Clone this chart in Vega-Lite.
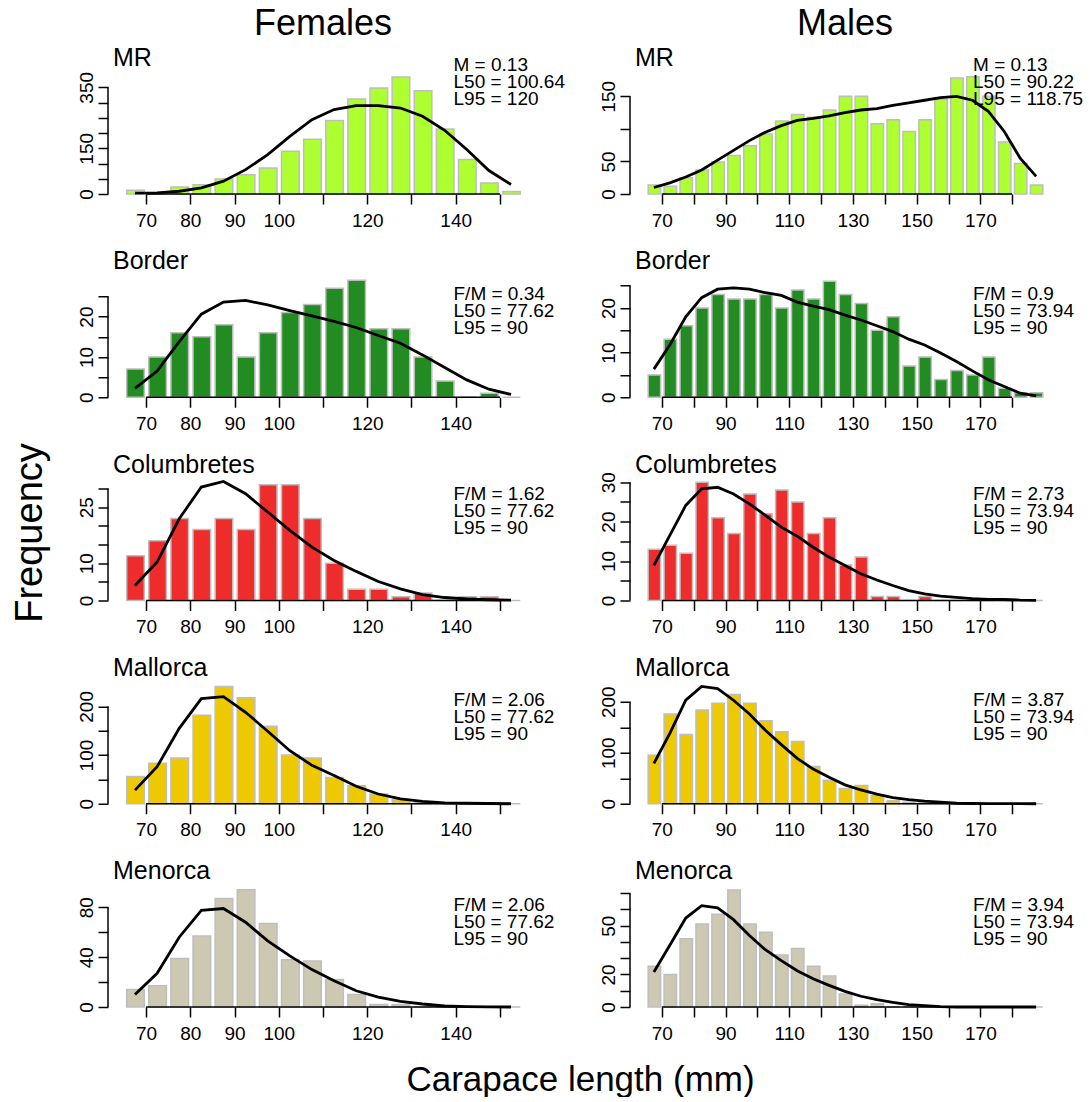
{
"$schema":"https://vega.github.io/schema/vega-lite/v6.json",
"background":"white",
"padding":{"left":10,"top":6,"right":0,"bottom":0},
"columns":2,
"spacing":{"row":75.25,"column":92},
"bounds":"flush",
"config":{
 "view":{"stroke":null},
 "font":"Liberation Sans",
 "text":{"font":"Liberation Sans","color":"black"},
 "title":{"font":"Liberation Sans","fontSize":36,"fontWeight":"normal","color":"black","anchor":"middle","frame":"group","baseline":"alphabetic","offset":3},
 "axis":{"domain":false,"grid":false,"ticks":true,"tickCount":100,"tickSize":10,"tickWidth":1.5,"tickColor":"black","labelFont":"Liberation Sans","labelFontSize":19,"labelColor":"black","labelFlush":false,"labelBound":false,"labelSeparation":-100,"titleFont":"Liberation Sans","titleFontWeight":"normal","titleColor":"black","titleFontSize":35},
 "axisX":{"labelPadding":7,"labelAngle":0},
 "axisY":{"labelAngle":-90,"labelAlign":"center","labelBaseline":"alphabetic","labelPadding":6}
},
"datasets":{
 "notes":[
  {"sex":"F","region":"MR","stats":"M = 0.13\nL50 = 100.64\nL95 = 120"},
  {"sex":"M","region":"MR","stats":"M = 0.13\nL50 = 90.22\nL95 = 118.75"},
  {"sex":"F","region":"Border","stats":"F/M = 0.34\nL50 = 77.62\nL95 = 90"},
  {"sex":"M","region":"Border","stats":"F/M = 0.9\nL50 = 73.94\nL95 = 90"},
  {"sex":"F","region":"Columbretes","stats":"F/M = 1.62\nL50 = 77.62\nL95 = 90"},
  {"sex":"M","region":"Columbretes","stats":"F/M = 2.73\nL50 = 73.94\nL95 = 90"},
  {"sex":"F","region":"Mallorca","stats":"F/M = 2.06\nL50 = 77.62\nL95 = 90"},
  {"sex":"M","region":"Mallorca","stats":"F/M = 3.87\nL50 = 73.94\nL95 = 90"},
  {"sex":"F","region":"Menorca","stats":"F/M = 2.06\nL50 = 77.62\nL95 = 90"},
  {"sex":"M","region":"Menorca","stats":"F/M = 3.94\nL50 = 73.94\nL95 = 90"}
 ],
 "h":[
{"sex":"F","region":"MR","lo":65,"hi":70,"mid":67.5,"n":12,"fit":3},
{"sex":"F","region":"MR","lo":70,"hi":75,"mid":72.5,"n":3,"fit":4},
{"sex":"F","region":"MR","lo":75,"hi":80,"mid":77.5,"n":23,"fit":9},
{"sex":"F","region":"MR","lo":80,"hi":85,"mid":82.5,"n":30,"fit":20},
{"sex":"F","region":"MR","lo":85,"hi":90,"mid":87.5,"n":49,"fit":42},
{"sex":"F","region":"MR","lo":90,"hi":95,"mid":92.5,"n":63,"fit":80},
{"sex":"F","region":"MR","lo":95,"hi":100,"mid":97.5,"n":85,"fit":129},
{"sex":"F","region":"MR","lo":100,"hi":105,"mid":102.5,"n":140,"fit":189},
{"sex":"F","region":"MR","lo":105,"hi":110,"mid":107.5,"n":180,"fit":244},
{"sex":"F","region":"MR","lo":110,"hi":115,"mid":112.5,"n":241,"fit":277},
{"sex":"F","region":"MR","lo":115,"hi":120,"mid":117.5,"n":312,"fit":290},
{"sex":"F","region":"MR","lo":120,"hi":125,"mid":122.5,"n":348,"fit":290},
{"sex":"F","region":"MR","lo":125,"hi":130,"mid":127.5,"n":384,"fit":282},
{"sex":"F","region":"MR","lo":130,"hi":135,"mid":132.5,"n":339,"fit":255},
{"sex":"F","region":"MR","lo":135,"hi":140,"mid":137.5,"n":213,"fit":209},
{"sex":"F","region":"MR","lo":140,"hi":145,"mid":142.5,"n":113,"fit":146},
{"sex":"F","region":"MR","lo":145,"hi":150,"mid":147.5,"n":36,"fit":77},
{"sex":"F","region":"MR","lo":150,"hi":155,"mid":152.5,"n":8,"fit":31},
{"sex":"M","region":"MR","lo":65,"hi":70,"mid":67.5,"n":14,"fit":10},
{"sex":"M","region":"MR","lo":70,"hi":75,"mid":72.5,"n":12,"fit":17},
{"sex":"M","region":"MR","lo":75,"hi":80,"mid":77.5,"n":25,"fit":26},
{"sex":"M","region":"MR","lo":80,"hi":85,"mid":82.5,"n":37,"fit":37},
{"sex":"M","region":"MR","lo":85,"hi":90,"mid":87.5,"n":49,"fit":52},
{"sex":"M","region":"MR","lo":90,"hi":95,"mid":92.5,"n":59,"fit":67},
{"sex":"M","region":"MR","lo":95,"hi":100,"mid":97.5,"n":74,"fit":82},
{"sex":"M","region":"MR","lo":100,"hi":105,"mid":102.5,"n":92,"fit":95},
{"sex":"M","region":"MR","lo":105,"hi":110,"mid":107.5,"n":112,"fit":105},
{"sex":"M","region":"MR","lo":110,"hi":115,"mid":112.5,"n":122,"fit":113},
{"sex":"M","region":"MR","lo":115,"hi":120,"mid":117.5,"n":118,"fit":116},
{"sex":"M","region":"MR","lo":120,"hi":125,"mid":122.5,"n":129,"fit":120},
{"sex":"M","region":"MR","lo":125,"hi":130,"mid":127.5,"n":150,"fit":125},
{"sex":"M","region":"MR","lo":130,"hi":135,"mid":132.5,"n":150,"fit":129},
{"sex":"M","region":"MR","lo":135,"hi":140,"mid":137.5,"n":108,"fit":131},
{"sex":"M","region":"MR","lo":140,"hi":145,"mid":142.5,"n":114,"fit":136},
{"sex":"M","region":"MR","lo":145,"hi":150,"mid":147.5,"n":96,"fit":140},
{"sex":"M","region":"MR","lo":150,"hi":155,"mid":152.5,"n":114,"fit":144},
{"sex":"M","region":"MR","lo":155,"hi":160,"mid":157.5,"n":145,"fit":148},
{"sex":"M","region":"MR","lo":160,"hi":165,"mid":162.5,"n":178,"fit":150},
{"sex":"M","region":"MR","lo":165,"hi":170,"mid":167.5,"n":180,"fit":144},
{"sex":"M","region":"MR","lo":170,"hi":175,"mid":172.5,"n":150,"fit":127},
{"sex":"M","region":"MR","lo":175,"hi":180,"mid":177.5,"n":80,"fit":96},
{"sex":"M","region":"MR","lo":180,"hi":185,"mid":182.5,"n":47,"fit":55},
{"sex":"M","region":"MR","lo":185,"hi":190,"mid":187.5,"n":14,"fit":27},
{"sex":"F","region":"Border","lo":65,"hi":70,"mid":67.5,"n":7,"fit":2.2},
{"sex":"F","region":"Border","lo":70,"hi":75,"mid":72.5,"n":10,"fit":6.5},
{"sex":"F","region":"Border","lo":75,"hi":80,"mid":77.5,"n":16,"fit":13.8},
{"sex":"F","region":"Border","lo":80,"hi":85,"mid":82.5,"n":15,"fit":20.6},
{"sex":"F","region":"Border","lo":85,"hi":90,"mid":87.5,"n":18,"fit":23.6},
{"sex":"F","region":"Border","lo":90,"hi":95,"mid":92.5,"n":10,"fit":24},
{"sex":"F","region":"Border","lo":95,"hi":100,"mid":97.5,"n":16,"fit":22.9},
{"sex":"F","region":"Border","lo":100,"hi":105,"mid":102.5,"n":21,"fit":21.5},
{"sex":"F","region":"Border","lo":105,"hi":110,"mid":107.5,"n":23,"fit":20.2},
{"sex":"F","region":"Border","lo":110,"hi":115,"mid":112.5,"n":27,"fit":18.8},
{"sex":"F","region":"Border","lo":115,"hi":120,"mid":117.5,"n":29,"fit":17.3},
{"sex":"F","region":"Border","lo":120,"hi":125,"mid":122.5,"n":17,"fit":15.3},
{"sex":"F","region":"Border","lo":125,"hi":130,"mid":127.5,"n":17,"fit":13.4},
{"sex":"F","region":"Border","lo":130,"hi":135,"mid":132.5,"n":10,"fit":10.5},
{"sex":"F","region":"Border","lo":135,"hi":140,"mid":137.5,"n":4,"fit":7.4},
{"sex":"F","region":"Border","lo":140,"hi":145,"mid":142.5,"n":0,"fit":4.3},
{"sex":"F","region":"Border","lo":145,"hi":150,"mid":147.5,"n":1,"fit":2},
{"sex":"F","region":"Border","lo":150,"hi":155,"mid":152.5,"n":0,"fit":0.7},
{"sex":"M","region":"Border","lo":65,"hi":70,"mid":67.5,"n":5,"fit":6.3},
{"sex":"M","region":"Border","lo":70,"hi":75,"mid":72.5,"n":13,"fit":11.7},
{"sex":"M","region":"Border","lo":75,"hi":80,"mid":77.5,"n":16,"fit":18},
{"sex":"M","region":"Border","lo":80,"hi":85,"mid":82.5,"n":20,"fit":22.3},
{"sex":"M","region":"Border","lo":85,"hi":90,"mid":87.5,"n":23,"fit":24.2},
{"sex":"M","region":"Border","lo":90,"hi":95,"mid":92.5,"n":22,"fit":24.5},
{"sex":"M","region":"Border","lo":95,"hi":100,"mid":97.5,"n":22,"fit":24.2},
{"sex":"M","region":"Border","lo":100,"hi":105,"mid":102.5,"n":23,"fit":23.4},
{"sex":"M","region":"Border","lo":105,"hi":110,"mid":107.5,"n":20,"fit":22.8},
{"sex":"M","region":"Border","lo":110,"hi":115,"mid":112.5,"n":24,"fit":21.3},
{"sex":"M","region":"Border","lo":115,"hi":120,"mid":117.5,"n":22,"fit":20.4},
{"sex":"M","region":"Border","lo":120,"hi":125,"mid":122.5,"n":26,"fit":19.6},
{"sex":"M","region":"Border","lo":125,"hi":130,"mid":127.5,"n":23,"fit":18.4},
{"sex":"M","region":"Border","lo":130,"hi":135,"mid":132.5,"n":21,"fit":17.3},
{"sex":"M","region":"Border","lo":135,"hi":140,"mid":137.5,"n":15,"fit":16},
{"sex":"M","region":"Border","lo":140,"hi":145,"mid":142.5,"n":18,"fit":14.7},
{"sex":"M","region":"Border","lo":145,"hi":150,"mid":147.5,"n":7,"fit":13},
{"sex":"M","region":"Border","lo":150,"hi":155,"mid":152.5,"n":9,"fit":11.7},
{"sex":"M","region":"Border","lo":155,"hi":160,"mid":157.5,"n":4,"fit":9.9},
{"sex":"M","region":"Border","lo":160,"hi":165,"mid":162.5,"n":6,"fit":8},
{"sex":"M","region":"Border","lo":165,"hi":170,"mid":167.5,"n":5,"fit":5.9},
{"sex":"M","region":"Border","lo":170,"hi":175,"mid":172.5,"n":9,"fit":3.9},
{"sex":"M","region":"Border","lo":175,"hi":180,"mid":177.5,"n":2,"fit":2.4},
{"sex":"M","region":"Border","lo":180,"hi":185,"mid":182.5,"n":1,"fit":0.9},
{"sex":"M","region":"Border","lo":185,"hi":190,"mid":187.5,"n":1,"fit":0.3},
{"sex":"F","region":"Columbretes","lo":65,"hi":70,"mid":67.5,"n":12,"fit":4},
{"sex":"F","region":"Columbretes","lo":70,"hi":75,"mid":72.5,"n":16,"fit":10.3},
{"sex":"F","region":"Columbretes","lo":75,"hi":80,"mid":77.5,"n":22,"fit":21.9},
{"sex":"F","region":"Columbretes","lo":80,"hi":85,"mid":82.5,"n":19,"fit":30.4},
{"sex":"F","region":"Columbretes","lo":85,"hi":90,"mid":87.5,"n":22,"fit":31.9},
{"sex":"F","region":"Columbretes","lo":90,"hi":95,"mid":92.5,"n":19,"fit":28.6},
{"sex":"F","region":"Columbretes","lo":95,"hi":100,"mid":97.5,"n":31,"fit":23.7},
{"sex":"F","region":"Columbretes","lo":100,"hi":105,"mid":102.5,"n":31,"fit":18.8},
{"sex":"F","region":"Columbretes","lo":105,"hi":110,"mid":107.5,"n":22,"fit":14.3},
{"sex":"F","region":"Columbretes","lo":110,"hi":115,"mid":112.5,"n":10,"fit":10.7},
{"sex":"F","region":"Columbretes","lo":115,"hi":120,"mid":117.5,"n":3,"fit":7.8},
{"sex":"F","region":"Columbretes","lo":120,"hi":125,"mid":122.5,"n":3,"fit":5.1},
{"sex":"F","region":"Columbretes","lo":125,"hi":130,"mid":127.5,"n":1,"fit":3.1},
{"sex":"F","region":"Columbretes","lo":130,"hi":135,"mid":132.5,"n":2,"fit":1.6},
{"sex":"F","region":"Columbretes","lo":135,"hi":140,"mid":137.5,"n":0,"fit":0.8},
{"sex":"F","region":"Columbretes","lo":140,"hi":145,"mid":142.5,"n":1,"fit":0.4},
{"sex":"F","region":"Columbretes","lo":145,"hi":150,"mid":147.5,"n":1,"fit":0.2},
{"sex":"F","region":"Columbretes","lo":150,"hi":155,"mid":152.5,"n":0,"fit":0.1},
{"sex":"M","region":"Columbretes","lo":65,"hi":70,"mid":67.5,"n":13,"fit":8.9},
{"sex":"M","region":"Columbretes","lo":70,"hi":75,"mid":72.5,"n":14,"fit":16.5},
{"sex":"M","region":"Columbretes","lo":75,"hi":80,"mid":77.5,"n":12,"fit":24.1},
{"sex":"M","region":"Columbretes","lo":80,"hi":85,"mid":82.5,"n":30,"fit":28.3},
{"sex":"M","region":"Columbretes","lo":85,"hi":90,"mid":87.5,"n":21,"fit":28.7},
{"sex":"M","region":"Columbretes","lo":90,"hi":95,"mid":92.5,"n":17,"fit":27},
{"sex":"M","region":"Columbretes","lo":95,"hi":100,"mid":97.5,"n":27,"fit":24.5},
{"sex":"M","region":"Columbretes","lo":100,"hi":105,"mid":102.5,"n":22,"fit":21.6},
{"sex":"M","region":"Columbretes","lo":105,"hi":110,"mid":107.5,"n":28,"fit":18.6},
{"sex":"M","region":"Columbretes","lo":110,"hi":115,"mid":112.5,"n":25,"fit":16.3},
{"sex":"M","region":"Columbretes","lo":115,"hi":120,"mid":117.5,"n":17,"fit":13.5},
{"sex":"M","region":"Columbretes","lo":120,"hi":125,"mid":122.5,"n":21,"fit":11},
{"sex":"M","region":"Columbretes","lo":125,"hi":130,"mid":127.5,"n":9,"fit":8.9},
{"sex":"M","region":"Columbretes","lo":130,"hi":135,"mid":132.5,"n":11,"fit":6.8},
{"sex":"M","region":"Columbretes","lo":135,"hi":140,"mid":137.5,"n":1,"fit":5.2},
{"sex":"M","region":"Columbretes","lo":140,"hi":145,"mid":142.5,"n":1,"fit":3.8},
{"sex":"M","region":"Columbretes","lo":145,"hi":150,"mid":147.5,"n":0,"fit":2.5},
{"sex":"M","region":"Columbretes","lo":150,"hi":155,"mid":152.5,"n":1,"fit":1.7},
{"sex":"M","region":"Columbretes","lo":155,"hi":160,"mid":157.5,"n":0,"fit":1.1},
{"sex":"M","region":"Columbretes","lo":160,"hi":165,"mid":162.5,"n":0,"fit":0.8},
{"sex":"M","region":"Columbretes","lo":165,"hi":170,"mid":167.5,"n":0,"fit":0.5},
{"sex":"M","region":"Columbretes","lo":170,"hi":175,"mid":172.5,"n":0,"fit":0.3},
{"sex":"M","region":"Columbretes","lo":175,"hi":180,"mid":177.5,"n":0,"fit":0.25},
{"sex":"M","region":"Columbretes","lo":180,"hi":185,"mid":182.5,"n":0,"fit":0.1},
{"sex":"M","region":"Columbretes","lo":185,"hi":190,"mid":187.5,"n":0,"fit":0.05},
{"sex":"F","region":"Mallorca","lo":65,"hi":70,"mid":67.5,"n":56,"fit":28},
{"sex":"F","region":"Mallorca","lo":70,"hi":75,"mid":72.5,"n":83,"fit":76},
{"sex":"F","region":"Mallorca","lo":75,"hi":80,"mid":77.5,"n":94,"fit":155},
{"sex":"F","region":"Mallorca","lo":80,"hi":85,"mid":82.5,"n":182,"fit":216},
{"sex":"F","region":"Mallorca","lo":85,"hi":90,"mid":87.5,"n":241,"fit":220},
{"sex":"F","region":"Mallorca","lo":90,"hi":95,"mid":92.5,"n":218,"fit":188},
{"sex":"F","region":"Mallorca","lo":95,"hi":100,"mid":97.5,"n":159,"fit":149},
{"sex":"F","region":"Mallorca","lo":100,"hi":105,"mid":102.5,"n":100,"fit":109},
{"sex":"F","region":"Mallorca","lo":105,"hi":110,"mid":107.5,"n":94,"fit":79},
{"sex":"F","region":"Mallorca","lo":110,"hi":115,"mid":112.5,"n":54,"fit":58},
{"sex":"F","region":"Mallorca","lo":115,"hi":120,"mid":117.5,"n":37,"fit":36},
{"sex":"F","region":"Mallorca","lo":120,"hi":125,"mid":122.5,"n":20,"fit":20},
{"sex":"F","region":"Mallorca","lo":125,"hi":130,"mid":127.5,"n":8,"fit":10},
{"sex":"F","region":"Mallorca","lo":130,"hi":135,"mid":132.5,"n":3,"fit":5},
{"sex":"F","region":"Mallorca","lo":135,"hi":140,"mid":137.5,"n":1,"fit":2},
{"sex":"F","region":"Mallorca","lo":140,"hi":145,"mid":142.5,"n":0,"fit":1},
{"sex":"F","region":"Mallorca","lo":145,"hi":150,"mid":147.5,"n":1,"fit":0.5},
{"sex":"F","region":"Mallorca","lo":150,"hi":155,"mid":152.5,"n":0,"fit":0},
{"sex":"M","region":"Mallorca","lo":65,"hi":70,"mid":67.5,"n":95,"fit":79},
{"sex":"M","region":"Mallorca","lo":70,"hi":75,"mid":72.5,"n":176,"fit":138},
{"sex":"M","region":"Mallorca","lo":75,"hi":80,"mid":77.5,"n":136,"fit":203},
{"sex":"M","region":"Mallorca","lo":80,"hi":85,"mid":82.5,"n":184,"fit":230},
{"sex":"M","region":"Mallorca","lo":85,"hi":90,"mid":87.5,"n":197,"fit":226},
{"sex":"M","region":"Mallorca","lo":90,"hi":95,"mid":92.5,"n":214,"fit":203},
{"sex":"M","region":"Mallorca","lo":95,"hi":100,"mid":97.5,"n":197,"fit":176},
{"sex":"M","region":"Mallorca","lo":100,"hi":105,"mid":102.5,"n":163,"fit":144},
{"sex":"M","region":"Mallorca","lo":105,"hi":110,"mid":107.5,"n":141,"fit":116},
{"sex":"M","region":"Mallorca","lo":110,"hi":115,"mid":112.5,"n":122,"fit":89},
{"sex":"M","region":"Mallorca","lo":115,"hi":120,"mid":117.5,"n":73,"fit":68},
{"sex":"M","region":"Mallorca","lo":120,"hi":125,"mid":122.5,"n":46,"fit":52},
{"sex":"M","region":"Mallorca","lo":125,"hi":130,"mid":127.5,"n":30,"fit":37},
{"sex":"M","region":"Mallorca","lo":130,"hi":135,"mid":132.5,"n":36,"fit":27},
{"sex":"M","region":"Mallorca","lo":135,"hi":140,"mid":137.5,"n":16,"fit":19},
{"sex":"M","region":"Mallorca","lo":140,"hi":145,"mid":142.5,"n":6,"fit":12},
{"sex":"M","region":"Mallorca","lo":145,"hi":150,"mid":147.5,"n":3,"fit":8},
{"sex":"M","region":"Mallorca","lo":150,"hi":155,"mid":152.5,"n":3,"fit":5},
{"sex":"M","region":"Mallorca","lo":155,"hi":160,"mid":157.5,"n":1,"fit":3},
{"sex":"M","region":"Mallorca","lo":160,"hi":165,"mid":162.5,"n":0,"fit":1},
{"sex":"M","region":"Mallorca","lo":165,"hi":170,"mid":167.5,"n":0,"fit":0.5},
{"sex":"M","region":"Mallorca","lo":170,"hi":175,"mid":172.5,"n":0,"fit":0.3},
{"sex":"M","region":"Mallorca","lo":175,"hi":180,"mid":177.5,"n":0,"fit":0.2},
{"sex":"M","region":"Mallorca","lo":180,"hi":185,"mid":182.5,"n":0,"fit":0.1},
{"sex":"M","region":"Mallorca","lo":185,"hi":190,"mid":187.5,"n":0,"fit":0},
{"sex":"F","region":"Menorca","lo":65,"hi":70,"mid":67.5,"n":14,"fit":10},
{"sex":"F","region":"Menorca","lo":70,"hi":75,"mid":72.5,"n":17,"fit":27},
{"sex":"F","region":"Menorca","lo":75,"hi":80,"mid":77.5,"n":39,"fit":56},
{"sex":"F","region":"Menorca","lo":80,"hi":85,"mid":82.5,"n":57,"fit":77.5},
{"sex":"F","region":"Menorca","lo":85,"hi":90,"mid":87.5,"n":87,"fit":79},
{"sex":"F","region":"Menorca","lo":90,"hi":95,"mid":92.5,"n":94,"fit":68},
{"sex":"F","region":"Menorca","lo":95,"hi":100,"mid":97.5,"n":67,"fit":53},
{"sex":"F","region":"Menorca","lo":100,"hi":105,"mid":102.5,"n":38,"fit":41},
{"sex":"F","region":"Menorca","lo":105,"hi":110,"mid":107.5,"n":37,"fit":30},
{"sex":"F","region":"Menorca","lo":110,"hi":115,"mid":112.5,"n":22,"fit":21},
{"sex":"F","region":"Menorca","lo":115,"hi":120,"mid":117.5,"n":10,"fit":13},
{"sex":"F","region":"Menorca","lo":120,"hi":125,"mid":122.5,"n":2,"fit":8},
{"sex":"F","region":"Menorca","lo":125,"hi":130,"mid":127.5,"n":2,"fit":4.5},
{"sex":"F","region":"Menorca","lo":130,"hi":135,"mid":132.5,"n":0,"fit":2.4},
{"sex":"F","region":"Menorca","lo":135,"hi":140,"mid":137.5,"n":0,"fit":0.8},
{"sex":"F","region":"Menorca","lo":140,"hi":145,"mid":142.5,"n":0,"fit":0.3},
{"sex":"F","region":"Menorca","lo":145,"hi":150,"mid":147.5,"n":0,"fit":0.1},
{"sex":"F","region":"Menorca","lo":150,"hi":155,"mid":152.5,"n":0,"fit":0},
{"sex":"M","region":"Menorca","lo":65,"hi":70,"mid":67.5,"n":25,"fit":21.5},
{"sex":"M","region":"Menorca","lo":70,"hi":75,"mid":72.5,"n":20,"fit":38},
{"sex":"M","region":"Menorca","lo":75,"hi":80,"mid":77.5,"n":42,"fit":54.7},
{"sex":"M","region":"Menorca","lo":80,"hi":85,"mid":82.5,"n":51,"fit":62.3},
{"sex":"M","region":"Menorca","lo":85,"hi":90,"mid":87.5,"n":57,"fit":60.9},
{"sex":"M","region":"Menorca","lo":90,"hi":95,"mid":92.5,"n":72,"fit":53.7},
{"sex":"M","region":"Menorca","lo":95,"hi":100,"mid":97.5,"n":51,"fit":43.9},
{"sex":"M","region":"Menorca","lo":100,"hi":105,"mid":102.5,"n":46,"fit":35.2},
{"sex":"M","region":"Menorca","lo":105,"hi":110,"mid":107.5,"n":32,"fit":28.5},
{"sex":"M","region":"Menorca","lo":110,"hi":115,"mid":112.5,"n":36,"fit":22.3},
{"sex":"M","region":"Menorca","lo":115,"hi":120,"mid":117.5,"n":25,"fit":17.4},
{"sex":"M","region":"Menorca","lo":120,"hi":125,"mid":122.5,"n":19,"fit":13.3},
{"sex":"M","region":"Menorca","lo":125,"hi":130,"mid":127.5,"n":8,"fit":9.6},
{"sex":"M","region":"Menorca","lo":130,"hi":135,"mid":132.5,"n":1,"fit":6.6},
{"sex":"M","region":"Menorca","lo":135,"hi":140,"mid":137.5,"n":2,"fit":4.5},
{"sex":"M","region":"Menorca","lo":140,"hi":145,"mid":142.5,"n":0,"fit":2.9},
{"sex":"M","region":"Menorca","lo":145,"hi":150,"mid":147.5,"n":0,"fit":1.4},
{"sex":"M","region":"Menorca","lo":150,"hi":155,"mid":152.5,"n":0,"fit":0.8},
{"sex":"M","region":"Menorca","lo":155,"hi":160,"mid":157.5,"n":0,"fit":0.2},
{"sex":"M","region":"Menorca","lo":160,"hi":165,"mid":162.5,"n":0,"fit":0},
{"sex":"M","region":"Menorca","lo":165,"hi":170,"mid":167.5,"n":0,"fit":0},
{"sex":"M","region":"Menorca","lo":170,"hi":175,"mid":172.5,"n":0,"fit":0},
{"sex":"M","region":"Menorca","lo":175,"hi":180,"mid":177.5,"n":0,"fit":0},
{"sex":"M","region":"Menorca","lo":180,"hi":185,"mid":182.5,"n":0,"fit":0},
{"sex":"M","region":"Menorca","lo":185,"hi":190,"mid":187.5,"n":0,"fit":0}
 ]
},
"concat":[
{"width":430,"height":128,"title":{"text":"Females"},
 "layer":[
  {"data":{"name":"h"},"transform":[{"filter":"datum.sex==='F'&&datum.region==='MR'"}],
   "mark":{"type":"bar","fill":"#ADFF2F","stroke":"#BEBEBE","strokeWidth":1.5,"binSpacing":4.5},
   "encoding":{
    "x":{"field":"lo","type":"quantitative","bin":{"binned":true,"step":5},"scale":{"domain":[61.4,158.6],"nice":false,"zero":false},"axis":{"title":null,"format":"d","tickCount":100,"labelOverlap":false,"values":[70,80,90,100,110,120,130,140,150],"labelExpr":"indexof([70,80,90,100,120,140],datum.value)>=0?datum.label:''"}},
    "x2":{"field":"hi"},
    "y":{"field":"n","type":"quantitative","scale":{"domain":[0,420],"nice":false,"zero":false},"axis":{"title":null,"format":"d","tickCount":100,"labelOverlap":false,"values":[0,50,100,150,200,250,300,350],"labelExpr":"indexof([0,150,350],datum.value)>=0?datum.label:''"}}}},
  {"data":{"name":"h"},"transform":[{"filter":"datum.sex==='F'&&datum.region==='MR'"}],
   "mark":{"type":"line","color":"black","strokeWidth":2.8},
   "encoding":{"x":{"field":"mid","type":"quantitative"},"y":{"field":"fit","type":"quantitative"}}},
  {"data":{"name":"notes"},"transform":[{"filter":"datum.sex==='F'&&datum.region==='MR'"}],
   "mark":{"type":"rule","color":"black","strokeWidth":1.5},
   "encoding":{"x":{"datum":70},"x2":{"datum":150},"y":{"datum":0}}},
  {"data":{"name":"notes"},"transform":[{"filter":"datum.sex==='F'&&datum.region==='MR'"}],
   "mark":{"type":"rule","color":"black","strokeWidth":1.5},
   "encoding":{"x":{"datum":61.4},"y":{"datum":0},"y2":{"datum":350}}},
  {"data":{"name":"notes"},"transform":[{"filter":"datum.sex==='F'&&datum.region==='MR'"}],
   "mark":{"type":"text","align":"left","baseline":"alphabetic","fontSize":25,"dx":5},
   "encoding":{"x":{"datum":61.4},"y":{"datum":420},"text":{"field":"region"}}},
  {"data":{"name":"notes"},"transform":[{"filter":"datum.sex==='F'&&datum.region==='MR'"}],
   "mark":{"type":"text","align":"left","baseline":"alphabetic","fontSize":19,"lineBreak":"\n","lineHeight":17},
   "encoding":{"x":{"datum":139.5},"y":{"datum":402},"text":{"field":"stats"}}}
 ]},
{"width":430,"height":128,"title":{"text":"Males"},
 "layer":[
  {"data":{"name":"h"},"transform":[{"filter":"datum.sex==='M'&&datum.region==='MR'"}],
   "mark":{"type":"bar","fill":"#ADFF2F","stroke":"#BEBEBE","strokeWidth":1.5,"binSpacing":3.5},
   "encoding":{
    "x":{"field":"lo","type":"quantitative","bin":{"binned":true,"step":5},"scale":{"domain":[60,195],"nice":false,"zero":false},"axis":{"title":null,"format":"d","tickCount":100,"labelOverlap":false,"values":[70,80,90,100,110,120,130,140,150,160,170,180],"labelExpr":"indexof([70,90,110,130,150,170],datum.value)>=0?datum.label:''"}},
    "x2":{"field":"hi"},
    "y":{"field":"n","type":"quantitative","scale":{"domain":[0,196.6],"nice":false,"zero":false},"axis":{"title":null,"format":"d","tickCount":100,"labelOverlap":false,"values":[0,50,100,150],"labelExpr":"indexof([0,50,150],datum.value)>=0?datum.label:''"}}}},
  {"data":{"name":"h"},"transform":[{"filter":"datum.sex==='M'&&datum.region==='MR'"}],
   "mark":{"type":"line","color":"black","strokeWidth":2.8},
   "encoding":{"x":{"field":"mid","type":"quantitative"},"y":{"field":"fit","type":"quantitative"}}},
  {"data":{"name":"notes"},"transform":[{"filter":"datum.sex==='M'&&datum.region==='MR'"}],
   "mark":{"type":"rule","color":"black","strokeWidth":1.5},
   "encoding":{"x":{"datum":70},"x2":{"datum":180},"y":{"datum":0}}},
  {"data":{"name":"notes"},"transform":[{"filter":"datum.sex==='M'&&datum.region==='MR'"}],
   "mark":{"type":"rule","color":"black","strokeWidth":1.5},
   "encoding":{"x":{"datum":60},"y":{"datum":0},"y2":{"datum":150}}},
  {"data":{"name":"notes"},"transform":[{"filter":"datum.sex==='M'&&datum.region==='MR'"}],
   "mark":{"type":"text","align":"left","baseline":"alphabetic","fontSize":25,"dx":5},
   "encoding":{"x":{"datum":60},"y":{"datum":196.6},"text":{"field":"region"}}},
  {"data":{"name":"notes"},"transform":[{"filter":"datum.sex==='M'&&datum.region==='MR'"}],
   "mark":{"type":"text","align":"left","baseline":"alphabetic","fontSize":19,"lineBreak":"\n","lineHeight":17},
   "encoding":{"x":{"datum":167.7},"y":{"datum":188.3},"text":{"field":"stats"}}}
 ]},
{"width":430,"height":128,
 "layer":[
  {"data":{"name":"h"},"transform":[{"filter":"datum.sex==='F'&&datum.region==='Border'"}],
   "mark":{"type":"bar","fill":"#228B22","stroke":"#BEBEBE","strokeWidth":1.5,"binSpacing":4.5},
   "encoding":{
    "x":{"field":"lo","type":"quantitative","bin":{"binned":true,"step":5},"scale":{"domain":[61.4,158.6],"nice":false,"zero":false},"axis":{"title":null,"format":"d","tickCount":100,"labelOverlap":false,"values":[70,80,90,100,110,120,130,140,150],"labelExpr":"indexof([70,80,90,100,120,140],datum.value)>=0?datum.label:''"}},
    "x2":{"field":"hi"},
    "y":{"field":"n","type":"quantitative","scale":{"domain":[0,31.74],"nice":false,"zero":false},"axis":{"title":null,"format":"d","tickCount":100,"labelOverlap":false,"values":[0,5,10,15,20,25],"labelExpr":"indexof([0,10,20],datum.value)>=0?datum.label:''"}}}},
  {"data":{"name":"h"},"transform":[{"filter":"datum.sex==='F'&&datum.region==='Border'"}],
   "mark":{"type":"line","color":"black","strokeWidth":2.8},
   "encoding":{"x":{"field":"mid","type":"quantitative"},"y":{"field":"fit","type":"quantitative"}}},
  {"data":{"name":"notes"},"transform":[{"filter":"datum.sex==='F'&&datum.region==='Border'"}],
   "mark":{"type":"rule","color":"black","strokeWidth":1.5},
   "encoding":{"x":{"datum":70},"x2":{"datum":150},"y":{"datum":0}}},
  {"data":{"name":"notes"},"transform":[{"filter":"datum.sex==='F'&&datum.region==='Border'"}],
   "mark":{"type":"rule","color":"black","strokeWidth":1.5},
   "encoding":{"x":{"datum":61.4},"y":{"datum":0},"y2":{"datum":25}}},
  {"data":{"name":"notes"},"transform":[{"filter":"datum.sex==='F'&&datum.region==='Border'"}],
   "mark":{"type":"text","align":"left","baseline":"alphabetic","fontSize":25,"dx":5},
   "encoding":{"x":{"datum":61.4},"y":{"datum":31.74},"text":{"field":"region"}}},
  {"data":{"name":"notes"},"transform":[{"filter":"datum.sex==='F'&&datum.region==='Border'"}],
   "mark":{"type":"text","align":"left","baseline":"alphabetic","fontSize":19,"lineBreak":"\n","lineHeight":17},
   "encoding":{"x":{"datum":139.5},"y":{"datum":24.1},"text":{"field":"stats"}}}
 ]},
{"width":430,"height":128,
 "layer":[
  {"data":{"name":"h"},"transform":[{"filter":"datum.sex==='M'&&datum.region==='Border'"}],
   "mark":{"type":"bar","fill":"#228B22","stroke":"#BEBEBE","strokeWidth":1.5,"binSpacing":3.5},
   "encoding":{
    "x":{"field":"lo","type":"quantitative","bin":{"binned":true,"step":5},"scale":{"domain":[60,195],"nice":false,"zero":false},"axis":{"title":null,"format":"d","tickCount":100,"labelOverlap":false,"values":[70,80,90,100,110,120,130,140,150,160,170,180],"labelExpr":"indexof([70,90,110,130,150,170],datum.value)>=0?datum.label:''"}},
    "x2":{"field":"hi"},
    "y":{"field":"n","type":"quantitative","scale":{"domain":[0,28.66],"nice":false,"zero":false},"axis":{"title":null,"format":"d","tickCount":100,"labelOverlap":false,"values":[0,5,10,15,20,25],"labelExpr":"indexof([0,10,20],datum.value)>=0?datum.label:''"}}}},
  {"data":{"name":"h"},"transform":[{"filter":"datum.sex==='M'&&datum.region==='Border'"}],
   "mark":{"type":"line","color":"black","strokeWidth":2.8},
   "encoding":{"x":{"field":"mid","type":"quantitative"},"y":{"field":"fit","type":"quantitative"}}},
  {"data":{"name":"notes"},"transform":[{"filter":"datum.sex==='M'&&datum.region==='Border'"}],
   "mark":{"type":"rule","color":"black","strokeWidth":1.5},
   "encoding":{"x":{"datum":70},"x2":{"datum":180},"y":{"datum":0}}},
  {"data":{"name":"notes"},"transform":[{"filter":"datum.sex==='M'&&datum.region==='Border'"}],
   "mark":{"type":"rule","color":"black","strokeWidth":1.5},
   "encoding":{"x":{"datum":60},"y":{"datum":0},"y2":{"datum":25}}},
  {"data":{"name":"notes"},"transform":[{"filter":"datum.sex==='M'&&datum.region==='Border'"}],
   "mark":{"type":"text","align":"left","baseline":"alphabetic","fontSize":25,"dx":5},
   "encoding":{"x":{"datum":60},"y":{"datum":28.66},"text":{"field":"region"}}},
  {"data":{"name":"notes"},"transform":[{"filter":"datum.sex==='M'&&datum.region==='Border'"}],
   "mark":{"type":"text","align":"left","baseline":"alphabetic","fontSize":19,"lineBreak":"\n","lineHeight":17},
   "encoding":{"x":{"datum":167.7},"y":{"datum":21.8},"text":{"field":"stats"}}}
 ]},
{"width":430,"height":128,
 "layer":[
  {"data":{"name":"h"},"transform":[{"filter":"datum.sex==='F'&&datum.region==='Columbretes'"}],
   "mark":{"type":"bar","fill":"#EE2C2C","stroke":"#BEBEBE","strokeWidth":1.5,"binSpacing":4.5},
   "encoding":{
    "x":{"field":"lo","type":"quantitative","bin":{"binned":true,"step":5},"scale":{"domain":[61.4,158.6],"nice":false,"zero":false},"axis":{"title":null,"format":"d","tickCount":100,"labelOverlap":false,"values":[70,80,90,100,110,120,130,140,150],"labelExpr":"indexof([70,80,90,100,120,140],datum.value)>=0?datum.label:''"}},
    "x2":{"field":"hi"},
    "y":{"field":"n","type":"quantitative","scale":{"domain":[0,34.29],"nice":false,"zero":false},"axis":{"title":"Frequency","titleFontSize":38,"titleX":-67,"titleY":60,"titleAngle":-90,"titleAlign":"center","titleBaseline":"alphabetic","format":"d","tickCount":100,"labelOverlap":false,"values":[0,5,10,15,20,25,30],"labelExpr":"indexof([0,10,25],datum.value)>=0?datum.label:''"}}}},
  {"data":{"name":"h"},"transform":[{"filter":"datum.sex==='F'&&datum.region==='Columbretes'"}],
   "mark":{"type":"line","color":"black","strokeWidth":2.8},
   "encoding":{"x":{"field":"mid","type":"quantitative"},"y":{"field":"fit","type":"quantitative"}}},
  {"data":{"name":"notes"},"transform":[{"filter":"datum.sex==='F'&&datum.region==='Columbretes'"}],
   "mark":{"type":"rule","color":"black","strokeWidth":1.5},
   "encoding":{"x":{"datum":70},"x2":{"datum":150},"y":{"datum":0}}},
  {"data":{"name":"notes"},"transform":[{"filter":"datum.sex==='F'&&datum.region==='Columbretes'"}],
   "mark":{"type":"rule","color":"black","strokeWidth":1.5},
   "encoding":{"x":{"datum":61.4},"y":{"datum":0},"y2":{"datum":30}}},
  {"data":{"name":"notes"},"transform":[{"filter":"datum.sex==='F'&&datum.region==='Columbretes'"}],
   "mark":{"type":"text","align":"left","baseline":"alphabetic","fontSize":25,"dx":5},
   "encoding":{"x":{"datum":61.4},"y":{"datum":34.29},"text":{"field":"region"}}},
  {"data":{"name":"notes"},"transform":[{"filter":"datum.sex==='F'&&datum.region==='Columbretes'"}],
   "mark":{"type":"text","align":"left","baseline":"alphabetic","fontSize":19,"lineBreak":"\n","lineHeight":17},
   "encoding":{"x":{"datum":139.5},"y":{"datum":26.8},"text":{"field":"stats"}}}
 ]},
{"width":430,"height":128,
 "layer":[
  {"data":{"name":"h"},"transform":[{"filter":"datum.sex==='M'&&datum.region==='Columbretes'"}],
   "mark":{"type":"bar","fill":"#EE2C2C","stroke":"#BEBEBE","strokeWidth":1.5,"binSpacing":3.5},
   "encoding":{
    "x":{"field":"lo","type":"quantitative","bin":{"binned":true,"step":5},"scale":{"domain":[60,195],"nice":false,"zero":false},"axis":{"title":null,"format":"d","tickCount":100,"labelOverlap":false,"values":[70,80,90,100,110,120,130,140,150,160,170,180],"labelExpr":"indexof([70,90,110,130,150,170],datum.value)>=0?datum.label:''"}},
    "x2":{"field":"hi"},
    "y":{"field":"n","type":"quantitative","scale":{"domain":[0,32.45],"nice":false,"zero":false},"axis":{"title":null,"format":"d","tickCount":100,"labelOverlap":false,"values":[0,5,10,15,20,25,30],"labelExpr":"indexof([0,10,20,30],datum.value)>=0?datum.label:''"}}}},
  {"data":{"name":"h"},"transform":[{"filter":"datum.sex==='M'&&datum.region==='Columbretes'"}],
   "mark":{"type":"line","color":"black","strokeWidth":2.8},
   "encoding":{"x":{"field":"mid","type":"quantitative"},"y":{"field":"fit","type":"quantitative"}}},
  {"data":{"name":"notes"},"transform":[{"filter":"datum.sex==='M'&&datum.region==='Columbretes'"}],
   "mark":{"type":"rule","color":"black","strokeWidth":1.5},
   "encoding":{"x":{"datum":70},"x2":{"datum":180},"y":{"datum":0}}},
  {"data":{"name":"notes"},"transform":[{"filter":"datum.sex==='M'&&datum.region==='Columbretes'"}],
   "mark":{"type":"rule","color":"black","strokeWidth":1.5},
   "encoding":{"x":{"datum":60},"y":{"datum":0},"y2":{"datum":30}}},
  {"data":{"name":"notes"},"transform":[{"filter":"datum.sex==='M'&&datum.region==='Columbretes'"}],
   "mark":{"type":"text","align":"left","baseline":"alphabetic","fontSize":25,"dx":5},
   "encoding":{"x":{"datum":60},"y":{"datum":32.45},"text":{"field":"region"}}},
  {"data":{"name":"notes"},"transform":[{"filter":"datum.sex==='M'&&datum.region==='Columbretes'"}],
   "mark":{"type":"text","align":"left","baseline":"alphabetic","fontSize":19,"lineBreak":"\n","lineHeight":17},
   "encoding":{"x":{"datum":167.7},"y":{"datum":25.4},"text":{"field":"stats"}}}
 ]},
{"width":430,"height":128,
 "layer":[
  {"data":{"name":"h"},"transform":[{"filter":"datum.sex==='F'&&datum.region==='Mallorca'"}],
   "mark":{"type":"bar","fill":"#EEC900","stroke":"#BEBEBE","strokeWidth":1.5,"binSpacing":4.5},
   "encoding":{
    "x":{"field":"lo","type":"quantitative","bin":{"binned":true,"step":5},"scale":{"domain":[61.4,158.6],"nice":false,"zero":false},"axis":{"title":null,"format":"d","tickCount":100,"labelOverlap":false,"values":[70,80,90,100,110,120,130,140,150],"labelExpr":"indexof([70,80,90,100,120,140],datum.value)>=0?datum.label:''"}},
    "x2":{"field":"hi"},
    "y":{"field":"n","type":"quantitative","scale":{"domain":[0,263],"nice":false,"zero":false},"axis":{"title":null,"format":"d","tickCount":100,"labelOverlap":false,"values":[0,50,100,150,200],"labelExpr":"indexof([0,100,200],datum.value)>=0?datum.label:''"}}}},
  {"data":{"name":"h"},"transform":[{"filter":"datum.sex==='F'&&datum.region==='Mallorca'"}],
   "mark":{"type":"line","color":"black","strokeWidth":2.8},
   "encoding":{"x":{"field":"mid","type":"quantitative"},"y":{"field":"fit","type":"quantitative"}}},
  {"data":{"name":"notes"},"transform":[{"filter":"datum.sex==='F'&&datum.region==='Mallorca'"}],
   "mark":{"type":"rule","color":"black","strokeWidth":1.5},
   "encoding":{"x":{"datum":70},"x2":{"datum":150},"y":{"datum":0}}},
  {"data":{"name":"notes"},"transform":[{"filter":"datum.sex==='F'&&datum.region==='Mallorca'"}],
   "mark":{"type":"rule","color":"black","strokeWidth":1.5},
   "encoding":{"x":{"datum":61.4},"y":{"datum":0},"y2":{"datum":200}}},
  {"data":{"name":"notes"},"transform":[{"filter":"datum.sex==='F'&&datum.region==='Mallorca'"}],
   "mark":{"type":"text","align":"left","baseline":"alphabetic","fontSize":25,"dx":5},
   "encoding":{"x":{"datum":61.4},"y":{"datum":263},"text":{"field":"region"}}},
  {"data":{"name":"notes"},"transform":[{"filter":"datum.sex==='F'&&datum.region==='Mallorca'"}],
   "mark":{"type":"text","align":"left","baseline":"alphabetic","fontSize":19,"lineBreak":"\n","lineHeight":17},
   "encoding":{"x":{"datum":139.5},"y":{"datum":201},"text":{"field":"stats"}}}
 ]},
{"width":430,"height":128,
 "layer":[
  {"data":{"name":"h"},"transform":[{"filter":"datum.sex==='M'&&datum.region==='Mallorca'"}],
   "mark":{"type":"bar","fill":"#EEC900","stroke":"#BEBEBE","strokeWidth":1.5,"binSpacing":3.5},
   "encoding":{
    "x":{"field":"lo","type":"quantitative","bin":{"binned":true,"step":5},"scale":{"domain":[60,195],"nice":false,"zero":false},"axis":{"title":null,"format":"d","tickCount":100,"labelOverlap":false,"values":[70,80,90,100,110,120,130,140,150,160,170,180],"labelExpr":"indexof([70,90,110,130,150,170],datum.value)>=0?datum.label:''"}},
    "x2":{"field":"hi"},
    "y":{"field":"n","type":"quantitative","scale":{"domain":[0,251],"nice":false,"zero":false},"axis":{"title":null,"format":"d","tickCount":100,"labelOverlap":false,"values":[0,50,100,150,200],"labelExpr":"indexof([0,100,200],datum.value)>=0?datum.label:''"}}}},
  {"data":{"name":"h"},"transform":[{"filter":"datum.sex==='M'&&datum.region==='Mallorca'"}],
   "mark":{"type":"line","color":"black","strokeWidth":2.8},
   "encoding":{"x":{"field":"mid","type":"quantitative"},"y":{"field":"fit","type":"quantitative"}}},
  {"data":{"name":"notes"},"transform":[{"filter":"datum.sex==='M'&&datum.region==='Mallorca'"}],
   "mark":{"type":"rule","color":"black","strokeWidth":1.5},
   "encoding":{"x":{"datum":70},"x2":{"datum":180},"y":{"datum":0}}},
  {"data":{"name":"notes"},"transform":[{"filter":"datum.sex==='M'&&datum.region==='Mallorca'"}],
   "mark":{"type":"rule","color":"black","strokeWidth":1.5},
   "encoding":{"x":{"datum":60},"y":{"datum":0},"y2":{"datum":200}}},
  {"data":{"name":"notes"},"transform":[{"filter":"datum.sex==='M'&&datum.region==='Mallorca'"}],
   "mark":{"type":"text","align":"left","baseline":"alphabetic","fontSize":25,"dx":5},
   "encoding":{"x":{"datum":60},"y":{"datum":251},"text":{"field":"region"}}},
  {"data":{"name":"notes"},"transform":[{"filter":"datum.sex==='M'&&datum.region==='Mallorca'"}],
   "mark":{"type":"text","align":"left","baseline":"alphabetic","fontSize":19,"lineBreak":"\n","lineHeight":17},
   "encoding":{"x":{"datum":167.7},"y":{"datum":192},"text":{"field":"stats"}}}
 ]},
{"width":430,"height":128,
 "layer":[
  {"data":{"name":"h"},"transform":[{"filter":"datum.sex==='F'&&datum.region==='Menorca'"}],
   "mark":{"type":"bar","fill":"#CDC8B1","stroke":"#BEBEBE","strokeWidth":1.5,"binSpacing":4.5},
   "encoding":{
    "x":{"field":"lo","type":"quantitative","bin":{"binned":true,"step":5},"scale":{"domain":[61.4,158.6],"nice":false,"zero":false},"axis":{"title":"Carapace length (mm)","titleX":472,"titleY":83,"titleAngle":0,"titleAlign":"center","titleBaseline":"alphabetic","format":"d","tickCount":100,"labelOverlap":false,"values":[70,80,90,100,110,120,130,140,150],"labelExpr":"indexof([70,80,90,100,120,140],datum.value)>=0?datum.label:''"}},
    "x2":{"field":"hi"},
    "y":{"field":"n","type":"quantitative","scale":{"domain":[0,102.7],"nice":false,"zero":false},"axis":{"title":null,"format":"d","tickCount":100,"labelOverlap":false,"values":[0,20,40,60,80],"labelExpr":"indexof([0,40,80],datum.value)>=0?datum.label:''"}}}},
  {"data":{"name":"h"},"transform":[{"filter":"datum.sex==='F'&&datum.region==='Menorca'"}],
   "mark":{"type":"line","color":"black","strokeWidth":2.8},
   "encoding":{"x":{"field":"mid","type":"quantitative"},"y":{"field":"fit","type":"quantitative"}}},
  {"data":{"name":"notes"},"transform":[{"filter":"datum.sex==='F'&&datum.region==='Menorca'"}],
   "mark":{"type":"rule","color":"black","strokeWidth":1.5},
   "encoding":{"x":{"datum":70},"x2":{"datum":150},"y":{"datum":0}}},
  {"data":{"name":"notes"},"transform":[{"filter":"datum.sex==='F'&&datum.region==='Menorca'"}],
   "mark":{"type":"rule","color":"black","strokeWidth":1.5},
   "encoding":{"x":{"datum":61.4},"y":{"datum":0},"y2":{"datum":80}}},
  {"data":{"name":"notes"},"transform":[{"filter":"datum.sex==='F'&&datum.region==='Menorca'"}],
   "mark":{"type":"text","align":"left","baseline":"alphabetic","fontSize":25,"dx":5},
   "encoding":{"x":{"datum":61.4},"y":{"datum":102.7},"text":{"field":"region"}}},
  {"data":{"name":"notes"},"transform":[{"filter":"datum.sex==='F'&&datum.region==='Menorca'"}],
   "mark":{"type":"text","align":"left","baseline":"alphabetic","fontSize":19,"lineBreak":"\n","lineHeight":17},
   "encoding":{"x":{"datum":139.5},"y":{"datum":77.3},"text":{"field":"stats"}}}
 ]},
{"width":430,"height":128,
 "layer":[
  {"data":{"name":"h"},"transform":[{"filter":"datum.sex==='M'&&datum.region==='Menorca'"}],
   "mark":{"type":"bar","fill":"#CDC8B1","stroke":"#BEBEBE","strokeWidth":1.5,"binSpacing":3.5},
   "encoding":{
    "x":{"field":"lo","type":"quantitative","bin":{"binned":true,"step":5},"scale":{"domain":[60,195],"nice":false,"zero":false},"axis":{"title":null,"format":"d","tickCount":100,"labelOverlap":false,"values":[70,80,90,100,110,120,130,140,150,160,170,180],"labelExpr":"indexof([70,90,110,130,150,170],datum.value)>=0?datum.label:''"}},
    "x2":{"field":"hi"},
    "y":{"field":"n","type":"quantitative","scale":{"domain":[0,78.7],"nice":false,"zero":false},"axis":{"title":null,"format":"d","tickCount":100,"labelOverlap":false,"values":[0,10,20,30,40,50,60,70],"labelExpr":"indexof([0,20,50],datum.value)>=0?datum.label:''"}}}},
  {"data":{"name":"h"},"transform":[{"filter":"datum.sex==='M'&&datum.region==='Menorca'"}],
   "mark":{"type":"line","color":"black","strokeWidth":2.8},
   "encoding":{"x":{"field":"mid","type":"quantitative"},"y":{"field":"fit","type":"quantitative"}}},
  {"data":{"name":"notes"},"transform":[{"filter":"datum.sex==='M'&&datum.region==='Menorca'"}],
   "mark":{"type":"rule","color":"black","strokeWidth":1.5},
   "encoding":{"x":{"datum":70},"x2":{"datum":180},"y":{"datum":0}}},
  {"data":{"name":"notes"},"transform":[{"filter":"datum.sex==='M'&&datum.region==='Menorca'"}],
   "mark":{"type":"rule","color":"black","strokeWidth":1.5},
   "encoding":{"x":{"datum":60},"y":{"datum":0},"y2":{"datum":70}}},
  {"data":{"name":"notes"},"transform":[{"filter":"datum.sex==='M'&&datum.region==='Menorca'"}],
   "mark":{"type":"text","align":"left","baseline":"alphabetic","fontSize":25,"dx":5},
   "encoding":{"x":{"datum":60},"y":{"datum":78.7},"text":{"field":"region"}}},
  {"data":{"name":"notes"},"transform":[{"filter":"datum.sex==='M'&&datum.region==='Menorca'"}],
   "mark":{"type":"text","align":"left","baseline":"alphabetic","fontSize":19,"lineBreak":"\n","lineHeight":17},
   "encoding":{"x":{"datum":167.7},"y":{"datum":59.2},"text":{"field":"stats"}}}
 ]}
]
}
